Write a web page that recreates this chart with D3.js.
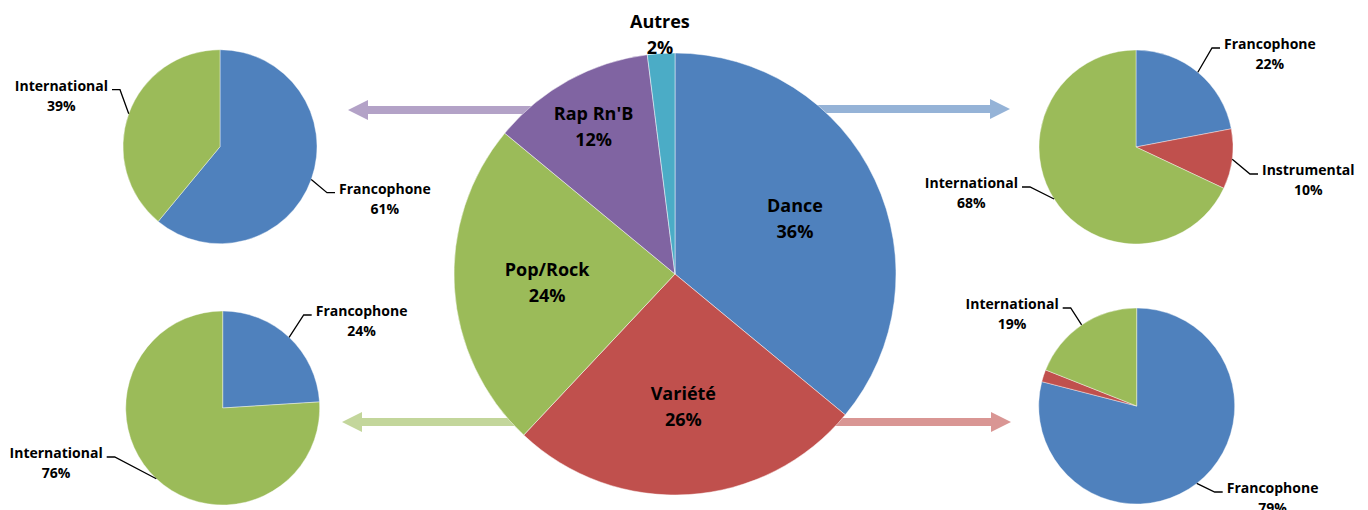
<!DOCTYPE html>
<html><head><meta charset="utf-8">
<script src="https://cdn.jsdelivr.net/npm/d3@7"></script>
<style>
body{margin:0;background:#fff;}
svg{display:block;background:#fff;}
text{font-family:"Open Sans","Liberation Sans",sans-serif;font-weight:bold;fill:#000;}
</style>
</head><body>
<svg id="c" width="1368" height="510"></svg>
<script>
// ---- data ----
const mainCategories = ["Dance", "Variété", "Pop/Rock", "Rap Rn'B", "Autres"];
const mainValues = [36, 26, 24, 12, 2];

const danceCategories = ["Francophone", "Instrumental", "International"];
const danceValues = [22, 10, 68];

const varieteCategories = ["Francophone", "Instrumental", "International"];
const varieteValues = [79, 2, 19];

const popCategories = ["Francophone", "International"];
const popValues = [24, 76];

const rapCategories = ["Francophone", "International"];
const rapValues = [61, 39];

// ---- styles / layout ----
const colorOf = {
  "Dance": "#4f81bd", "Variété": "#c0504d", "Pop/Rock": "#9bbb59",
  "Rap Rn'B": "#8064a2", "Autres": "#4bacc6",
  "Francophone": "#4f81bd", "Instrumental": "#c0504d", "International": "#9bbb59"
};
const main = {cx: 675, cy: 274, r: 221};
// label radius as a fraction of the main radius (Excel-like placement)
const mainLabelRadius = [0.60, 0.60, 0.58, 0.765, 1.09];

const subs = [
  {cats: rapCategories, vals: rapValues, cx: 220, cy: 146.7, r: 97,
   arrow: {color: "#b3a2c7", tipX: 348, y: 110},
   labels: [{dx: 115, dy: 46, side: 1}, {dx: -108, dy: -57, side: -1}]},
  {cats: danceCategories, vals: danceValues, cx: 1136, cy: 147, r: 97,
   arrow: {color: "#95b3d7", tipX: 1010, y: 109},
   labels: [{dx: 84, dy: -99, side: 1}, {dx: 122, dy: 27, side: 1}, {dx: -114, dy: 40, side: -1}]},
  {cats: popCategories, vals: popValues, cx: 222.7, cy: 408, r: 97,
   arrow: {color: "#c3d69b", tipX: 342, y: 422},
   labels: [{dx: 89, dy: -93, side: 1}, {dx: -116, dy: 49, side: -1}]},
  {cats: varieteCategories, vals: varieteValues, cx: 1136.7, cy: 406, r: 98,
   arrow: {color: "#d99694", tipX: 1011, y: 422},
   labels: [{dx: 86, dy: 86, side: 1}, null, {dx: -74, dy: -98, side: -1}]}
];

const svg = d3.select("#c");
const pie = d3.pie().sort(null).value(d => d.v);

// ---- arrows (behind main pie) ----
const arrowG = svg.append("g");
subs.forEach(s => {
  const a = s.arrow;
  const dir = a.tipX < main.cx ? -1 : 1;
  const hl = 20, hh = 10, st = 4;
  const baseX = a.tipX - dir * hl;
  const pts = [
    [main.cx, a.y - st], [baseX, a.y - st], [baseX, a.y - hh], [a.tipX, a.y],
    [baseX, a.y + hh], [baseX, a.y + st], [main.cx, a.y + st]
  ];
  arrowG.append("path").attr("d", d3.line()(pts) + "Z").attr("fill", a.color);
});

// ---- main pie ----
const mainData = mainCategories.map((c, i) => ({c, v: mainValues[i], i}));
const mainArcs = pie(mainData);
const mg = svg.append("g").attr("transform", `translate(${main.cx},${main.cy})`);
const arcMain = d3.arc().innerRadius(0).outerRadius(main.r);
mg.selectAll("path.s").data(mainArcs).join("path")
  .attr("class", "s")
  .attr("d", arcMain)
  .attr("fill", d => colorOf[d.data.c])
  .attr("stroke", "#ffffff").attr("stroke-width", 0.6).attr("stroke-opacity", 0.8);

const mainTotal = d3.sum(mainValues);
mg.selectAll("text.l").data(mainArcs).join("text")
  .attr("class", "l")
  .attr("text-anchor", "middle")
  .style("font-size", "18px")
  .each(function(d) {
    const lr = mainLabelRadius[d.data.i] * main.r;
    const c = d3.arc().innerRadius(lr).outerRadius(lr).centroid(d);
    const t = d3.select(this);
    t.append("tspan").attr("x", c[0]).attr("y", c[1] - 6).text(d.data.c);
    t.append("tspan").attr("x", c[0]).attr("y", c[1] + 20)
      .text(Math.round(d.data.v / mainTotal * 100) + "%");
  });

// ---- sub pies ----
subs.forEach(s => {
  const data = s.cats.map((c, i) => ({c, v: s.vals[i], i}));
  const arcs = pie(data);
  const total = d3.sum(s.vals);
  const g = svg.append("g").attr("transform", `translate(${s.cx},${s.cy})`);
  const arc = d3.arc().innerRadius(0).outerRadius(s.r);
  g.selectAll("path").data(arcs).join("path")
    .attr("d", arc)
    .attr("fill", d => colorOf[d.data.c])
    .attr("stroke", "#ffffff").attr("stroke-width", 0.5).attr("stroke-opacity", 0.8);

  arcs.forEach(d => {
    const L = s.labels[d.data.i];
    if (!L) return;
    const mid = (d.startAngle + d.endAngle) / 2;
    const ex = s.r * Math.sin(mid), ey = -s.r * Math.cos(mid);
    const elbowX = L.dx - L.side * 8;
    g.append("path")
      .attr("d", d3.line()([[ex, ey], [elbowX, L.dy], [L.dx, L.dy]]))
      .attr("fill", "none").attr("stroke", "#000").attr("stroke-width", 1.3);
    const t = g.append("text").attr("text-anchor", "middle").style("font-size", "14px");
    const t1 = t.append("tspan").text(d.data.c);
    const t2 = t.append("tspan").text(Math.round(d.data.v / total * 100) + "%");
    const w = Math.max(t1.node().getComputedTextLength(), t2.node().getComputedTextLength());
    const cxl = L.dx + L.side * (4 + w / 2);
    t1.attr("x", cxl).attr("y", L.dy + 1);
    t2.attr("x", cxl).attr("y", L.dy + 21);
  });
});
</script>
</body></html>
